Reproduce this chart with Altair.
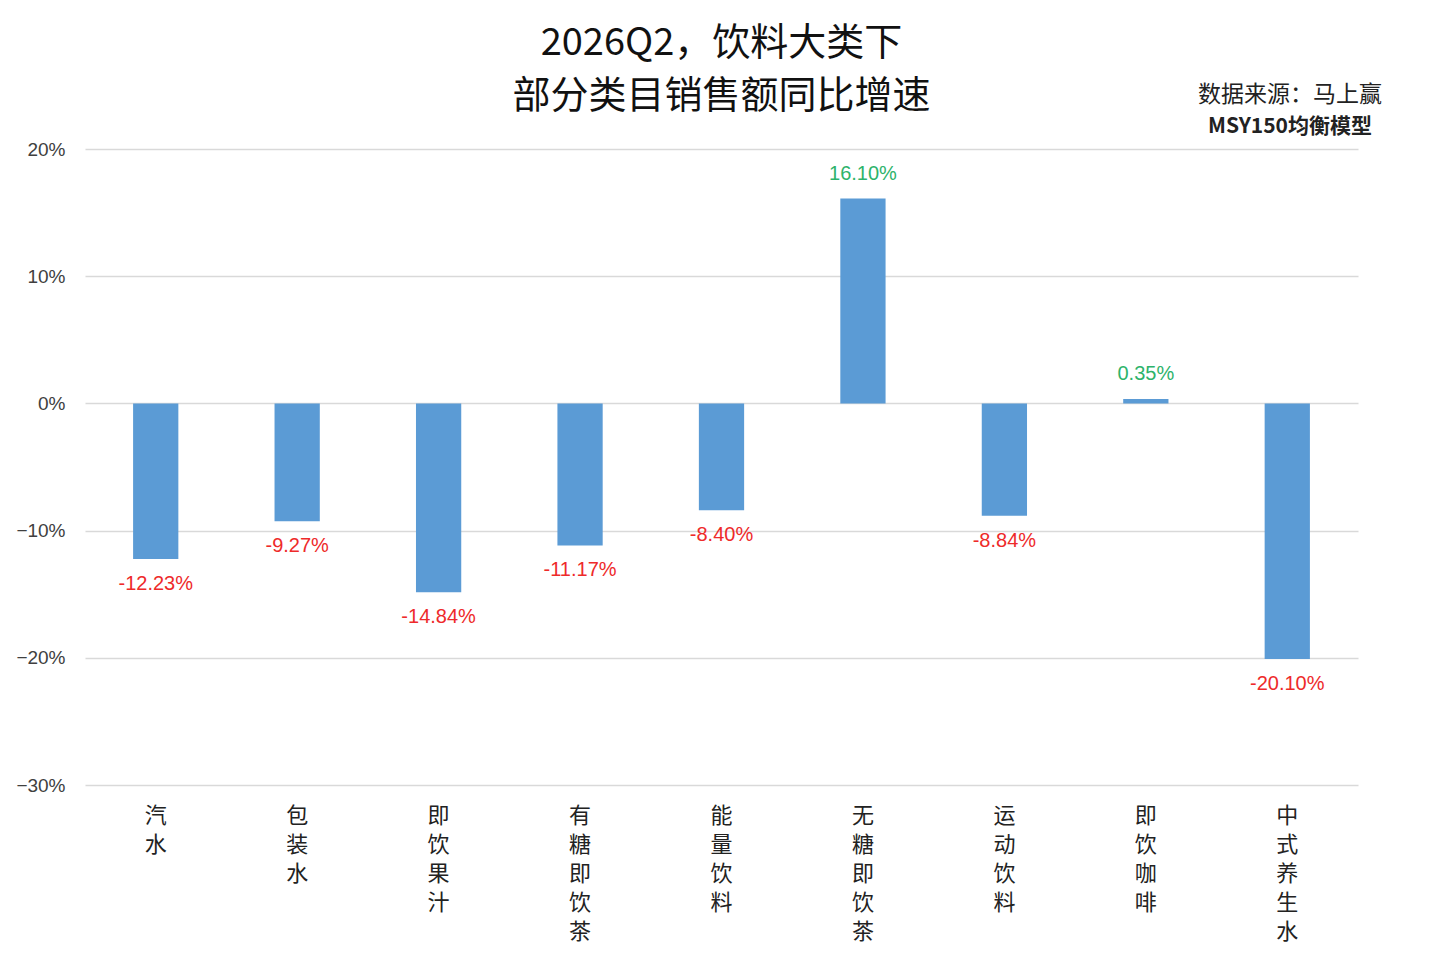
import altair as alt
import pandas as pd

categories = ["汽水", "包装水", "即饮果汁", "有糖即饮茶", "能量饮料", "无糖即饮茶", "运动饮料", "即饮咖啡", "中式养生水"]
values = [-12.23, -9.27, -14.84, -11.17, -8.40, 16.10, -8.84, 0.35, -20.10]
title_lines = ["2026Q2，饮料大类下", "部分类目销售额同比增速"]
source_lines = ["数据来源：马上赢", "MSY150均衡模型"]

df = pd.DataFrame({"cat": categories, "v": [x / 100 for x in values]})
df["label"] = [f"{x:.2f}%" for x in values]
df["sign"] = ["pos" if x >= 0 else "neg" for x in values]

CJK = "Noto Sans CJK SC"
LAT = "Liberation Sans"

x_enc = alt.X("cat:N", sort=categories, title=None,
              scale=alt.Scale(paddingInner=0.68, paddingOuter=0.34),
              axis=alt.Axis(labelAngle=0, labelExpr="split(datum.label, '')",
                            labelFont=CJK, labelFontSize=22, labelLineHeight=29,
                            labelColor="#222222", labelPadding=20, labelBaseline="top",
                            domain=False, ticks=False, grid=False))
y_enc = alt.Y("v:Q", title=None,
              scale=alt.Scale(domain=[-0.3, 0.2], nice=False),
              axis=alt.Axis(values=[-0.3, -0.2, -0.1, 0, 0.1, 0.2], format=".0%",
                            labelFont=LAT, labelFontSize=19, labelColor="#404040",
                            labelPadding=20, domain=False, ticks=False,
                            grid=True, gridColor="#d9d9d9", gridWidth=1.5))

bars = alt.Chart(df).mark_bar(color="#5b9bd5").encode(x=x_enc, y=y_enc, y2=alt.datum(0))

pos_labels = alt.Chart(df).transform_filter("datum.sign == 'pos'").mark_text(
    font=LAT, fontSize=20, color="#2db36b", dy=-25
).encode(x=alt.X("cat:N", sort=categories), y="v:Q", text="label:N")

neg_labels = alt.Chart(df).transform_filter("datum.sign == 'neg'").mark_text(
    font=LAT, fontSize=20, color="#ee2a2a", dy=25
).encode(x=alt.X("cat:N", sort=categories), y="v:Q", text="label:N")

src1 = alt.Chart(pd.DataFrame({"t": [source_lines[0]]})).mark_text(
    font=CJK, fontSize=23, color="#222222", align="center"
).encode(x=alt.value(1205), y=alt.value(-54), text="t:N")
src2 = alt.Chart(pd.DataFrame({"t": [source_lines[1]]})).mark_text(
    font=CJK, fontSize=21, color="#222222", align="center", fontWeight="bold"
).encode(x=alt.value(1205), y=alt.value(-22), text="t:N")

chart = alt.layer(bars, pos_labels, neg_labels, src1, src2).properties(
    width=1273, height=636,
    title=alt.TitleParams(title_lines, font=CJK, fontSize=38, fontWeight="normal",
                          color="#111111", anchor="middle", lineHeight=53, offset=-32),
    padding={"left": 77, "top": 141, "right": 70, "bottom": 165},
    autosize=alt.AutoSizeParams(type="none"),
    background="white",
).configure_view(stroke=None)

chart.save("out.html", embed_options={"renderer": "svg", "actions": False})
